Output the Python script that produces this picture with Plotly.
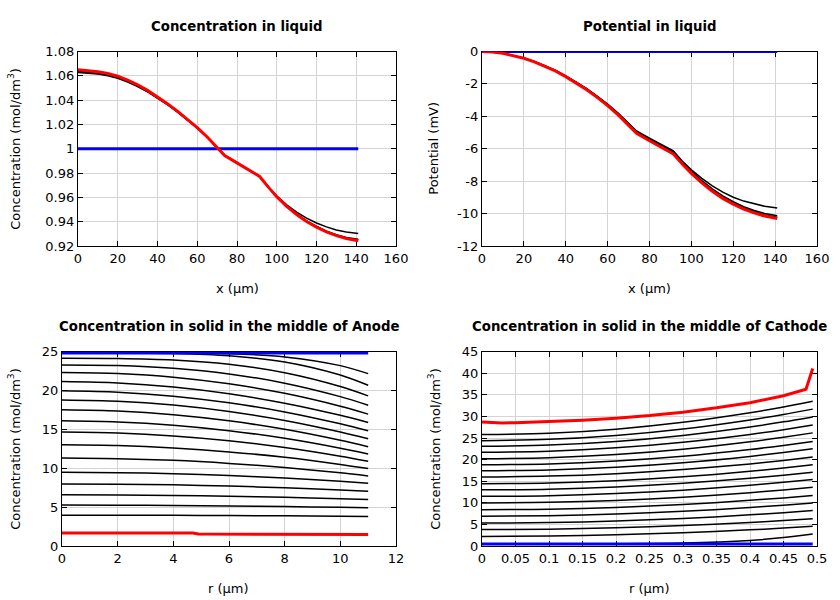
import plotly.graph_objects as go

# ---------------- data ----------------
# Liquid (top row)
x_liq = [0, 5, 10, 15, 20, 25, 30, 35, 40, 45, 50, 55, 60, 65, 70, 73.8, 80, 86, 91.4,
         96, 100, 105, 110, 115, 120, 125, 130, 135, 141]
x_liq_init = [0, 141]

conc_init = [1.0, 1.0]
conc_b1 = [1.0628, 1.0623, 1.0614, 1.0600, 1.0579, 1.0549, 1.0512, 1.0468, 1.0418, 1.0363, 1.0303, 1.0240, 1.0171,
           1.0095, 1.0013, 0.9944, 0.9884, 0.9826, 0.9772,
           0.9681, 0.9611, 0.9538, 0.9479, 0.9429, 0.9389, 0.9357, 0.9332, 0.9315, 0.9302]
conc_b2 = [1.0634, 1.0629, 1.0620, 1.0606, 1.0584, 1.0554, 1.0516, 1.0471, 1.0421, 1.0365, 1.0305, 1.0241, 1.0172,
           1.0096, 1.0013, 0.9944, 0.9884, 0.9826, 0.9772,
           0.9680, 0.9607, 0.9528, 0.9462, 0.9406, 0.9360, 0.9322, 0.9292, 0.9270, 0.9255]
conc_b3 = [1.0639, 1.0634, 1.0624, 1.0610, 1.0588, 1.0557, 1.0519, 1.0474, 1.0423, 1.0367, 1.0306, 1.0242, 1.0173,
           1.0096, 1.0013, 0.9944, 0.9884, 0.9826, 0.9772,
           0.9680, 0.9606, 0.9527, 0.9461, 0.9404, 0.9358, 0.9319, 0.9288, 0.9266, 0.9249]
conc_final = [1.0649, 1.0644, 1.0634, 1.0619, 1.0597, 1.0565, 1.0526, 1.0480, 1.0428, 1.0371, 1.0309, 1.0244, 1.0174,
              1.0097, 1.0014, 0.9944, 0.9884, 0.9826, 0.9772,
              0.9680, 0.9606, 0.9526, 0.9459, 0.9402, 0.9355, 0.9316, 0.9285, 0.9262, 0.9244]

pot_init = [0.0, 0.0]
pot_b1 = [0, -0.03, -0.11, -0.24, -0.41, -0.62, -0.87, -1.16, -1.50, -1.87, -2.29, -2.75, -3.24,
          -3.79, -4.39, -4.90, -5.34, -5.75, -6.13,
          -6.81, -7.30, -7.83, -8.29, -8.68, -8.99, -9.23, -9.41, -9.55, -9.66]
pot_b2 = [0, -0.03, -0.11, -0.25, -0.41, -0.63, -0.88, -1.18, -1.52, -1.89, -2.31, -2.77, -3.27,
          -3.83, -4.44, -4.95, -5.40, -5.81, -6.19,
          -6.86, -7.38, -7.97, -8.48, -8.91, -9.27, -9.57, -9.81, -9.99, -10.13]
pot_b3 = [0, -0.03, -0.11, -0.25, -0.42, -0.63, -0.89, -1.19, -1.53, -1.91, -2.34, -2.80, -3.31,
          -3.87, -4.48, -5.00, -5.45, -5.87, -6.26,
          -6.93, -7.46, -8.04, -8.55, -8.99, -9.35, -9.65, -9.89, -10.08, -10.22]
pot_final = [0, -0.03, -0.11, -0.25, -0.42, -0.64, -0.90, -1.20, -1.55, -1.93, -2.36, -2.83, -3.34,
             -3.91, -4.53, -5.05, -5.51, -5.93, -6.32,
             -6.99, -7.52, -8.11, -8.62, -9.06, -9.42, -9.72, -9.96, -10.15, -10.30]

# Anode solid (bottom left)
r_anode = [0, 2, 4, 6, 8, 10, 11]
r_anode_init = [0, 11]
anode_init = [24.82, 24.82]
anode_steps = [
    [24.88, 24.88, 24.87, 24.75, 24.33, 23.21, 22.18],
    [24.85, 24.85, 24.78, 24.48, 23.68, 22.00, 20.68],
    [24.15, 24.12, 23.92, 23.37, 22.29, 20.52, 19.32],
    [23.29, 23.22, 22.87, 22.14, 20.95, 19.22, 18.12],
    [22.31, 22.18, 21.72, 20.87, 19.64, 17.98, 16.97],
    [21.15, 20.98, 20.46, 19.59, 18.37, 16.81, 15.90],
    [19.96, 19.79, 19.28, 18.43, 17.25, 15.72, 14.83],
    [18.80, 18.64, 18.14, 17.31, 16.16, 14.67, 13.80],
    [17.52, 17.36, 16.89, 16.11, 15.01, 13.60, 12.78],
    [16.11, 15.97, 15.55, 14.84, 13.85, 12.58, 11.84],
    [14.66, 14.54, 14.16, 13.54, 12.67, 11.55, 10.90],
    [13.03, 12.93, 12.62, 12.11, 11.41, 10.49, 9.96],
    [11.32, 11.24, 11.02, 10.63, 10.10, 9.42, 9.02],
    [9.49, 9.44, 9.30, 9.07, 8.74, 8.33, 8.08],
    [7.99, 7.96, 7.87, 7.71, 7.49, 7.21, 7.05],
    [6.58, 6.56, 6.50, 6.40, 6.26, 6.08, 5.98],
    [5.26, 5.25, 5.21, 5.16, 5.07, 4.97, 4.91],
    [3.97, 3.96, 3.95, 3.92, 3.88, 3.83, 3.80],
]
r_anode_final = [0, 2, 4, 4.7, 4.9, 6, 8, 10, 11]
anode_final = [1.68, 1.68, 1.68, 1.67, 1.55, 1.54, 1.52, 1.50, 1.48]

# Cathode solid (bottom right)
r_cath = [0, 0.1, 0.2, 0.3, 0.4, 0.45, 0.4936]
r_cath_init = [0, 0.4936]
cath_init = [0.46, 0.46]
cath_steps = [
    [0.50, 0.50, 0.53, 0.69, 1.30, 1.94, 2.78],
    [2.20, 2.30, 2.59, 3.07, 3.74, 4.15, 4.55],
    [3.80, 3.90, 4.21, 4.72, 5.44, 5.88, 6.30],
    [5.30, 5.42, 5.78, 6.37, 7.21, 7.71, 8.20],
    [6.90, 7.03, 7.40, 8.03, 8.91, 9.44, 9.96],
    [8.40, 8.54, 8.94, 9.62, 10.57, 11.14, 11.70],
    [9.96, 10.11, 10.56, 11.30, 12.35, 12.98, 13.60],
    [11.50, 11.66, 12.14, 12.94, 14.06, 14.74, 15.40],
    [13.00, 13.17, 13.67, 14.51, 15.69, 16.41, 17.10],
    [14.40, 14.58, 15.12, 16.02, 17.29, 18.06, 18.80],
    [16.00, 16.19, 16.75, 17.70, 19.02, 19.82, 20.60],
    [17.40, 17.61, 18.24, 19.28, 20.75, 21.64, 22.50],
    [18.80, 19.02, 19.69, 20.79, 22.35, 23.29, 24.20],
    [20.20, 20.45, 21.18, 22.41, 24.14, 25.19, 26.20],
    [21.70, 21.96, 22.73, 24.02, 25.84, 26.94, 28.00],
    [23.10, 23.38, 24.22, 25.61, 27.57, 28.75, 29.90],
    [24.40, 24.70, 25.60, 27.09, 29.20, 30.47, 31.70],
    [25.80, 26.12, 27.06, 28.64, 30.86, 32.20, 33.50],
]
r_cath_final = [0, 0.03, 0.05, 0.1, 0.15, 0.2, 0.25, 0.3, 0.35, 0.4, 0.45, 0.4836, 0.4936]
cath_final = [28.7, 28.5, 28.55, 28.8, 29.15, 29.6, 30.2, 31.0, 32.0, 33.2, 34.8, 36.3, 41.1]

# ticks
liq_x_ticks = [0, 20, 40, 60, 80, 100, 120, 140, 160]
conc_y_ticks = [0.92, 0.94, 0.96, 0.98, 1.0, 1.02, 1.04, 1.06, 1.08]
conc_y_text = ["0.92", "0.94", "0.96", "0.98", "1", "1.02", "1.04", "1.06", "1.08"]
pot_y_ticks = [-12, -10, -8, -6, -4, -2, 0]
pot_y_text = ["-12", "-10", "-8", "-6", "-4", "-2", "0"]
anode_x_ticks = [0, 2, 4, 6, 8, 10, 12]
anode_y_ticks = [0, 5, 10, 15, 20, 25]
cath_x_ticks = [0, 0.05, 0.1, 0.15, 0.2, 0.25, 0.3, 0.35, 0.4, 0.45, 0.5]
cath_x_text = ["0", "0.05", "0.1", "0.15", "0.2", "0.25", "0.3", "0.35", "0.4", "0.45", "0.5"]
cath_y_ticks = [0, 5, 10, 15, 20, 25, 30, 35, 40, 45]

titles = ["Concentration in liquid", "Potential in liquid",
          "Concentration in solid in the middle of Anode", "Concentration in solid in the middle of Cathode"]
conc_label = "Concentration (mol/dm<sup>3</sup>)"

# ---------------- figure ----------------
W, H = 840, 600
FONT = "DejaVu Sans"
BLACK_W = 1.5
THICK_W = 3

fig = go.Figure()


def add_line(x, y, color, width, xa, ya, shape="linear"):
    fig.add_trace(go.Scatter(x=x, y=y, mode="lines", xaxis=xa, yaxis=ya, cliponaxis=False,
                             line=dict(color=color, width=width, shape=shape, smoothing=0.8),
                             showlegend=False, hoverinfo="skip"))


# top-left
for s in [conc_b1, conc_b2, conc_b3]:
    add_line(x_liq, s, "black", BLACK_W, "x", "y")
add_line(x_liq_init, conc_init, "#0000ff", THICK_W, "x", "y")
add_line(x_liq, conc_final, "#ff0000", THICK_W, "x", "y")

# top-right
for s in [pot_b1, pot_b2, pot_b3]:
    add_line(x_liq, s, "black", BLACK_W, "x2", "y2")
add_line(x_liq_init, pot_init, "#0000ff", THICK_W, "x2", "y2")
add_line(x_liq, pot_final, "#ff0000", THICK_W, "x2", "y2")

# bottom-left
for s in anode_steps:
    add_line(r_anode, s, "black", BLACK_W, "x3", "y3", "spline")
add_line(r_anode_init, anode_init, "#0000ff", THICK_W, "x3", "y3")
add_line(r_anode_final, anode_final, "#ff0000", THICK_W, "x3", "y3")

# bottom-right
for s in cath_steps:
    add_line(r_cath, s, "black", BLACK_W, "x4", "y4", "spline")
add_line(r_cath_init, cath_init, "#0000ff", THICK_W, "x4", "y4")
add_line(r_cath_final, cath_final, "#ff0000", THICK_W, "x4", "y4")

# pixel boxes: (left, right, top, bottom)
boxes = [(78, 396, 51.5, 246), (482, 817, 51.5, 246), (62, 396, 351.7, 546), (482, 817, 351.7, 546)]


def dom(b):
    l, r, t, btm = b
    return [l / W, r / W], [1 - btm / H, 1 - t / H]


axis_common = dict(showline=True, linecolor="black", linewidth=1.3, mirror="allticks", ticks="inside",
                   ticklen=5, tickwidth=1, tickcolor="black", showgrid=True, gridcolor="#d4d4d4",
                   gridwidth=1, zeroline=False, layer="below traces", automargin=False,
                   tickfont=dict(family=FONT, size=13, color="black"))

specs = [
    (liq_x_ticks, [str(v) for v in liq_x_ticks], [0, 160], conc_y_ticks, conc_y_text, [0.92, 1.08]),
    (liq_x_ticks, [str(v) for v in liq_x_ticks], [0, 160], pot_y_ticks, pot_y_text, [-12, 0]),
    (anode_x_ticks, [str(v) for v in anode_x_ticks], [0, 12], anode_y_ticks, [str(v) for v in anode_y_ticks], [0, 25]),
    (cath_x_ticks, cath_x_text, [0, 0.5], cath_y_ticks, [str(v) for v in cath_y_ticks], [0, 45]),
]

layout = dict(width=W, height=H, margin=dict(l=0, r=0, t=0, b=0, autoexpand=False), paper_bgcolor="white",
              plot_bgcolor="white", showlegend=False, font=dict(family=FONT, size=13, color="black"))
for i, (b, sp) in enumerate(zip(boxes, specs)):
    n = "" if i == 0 else str(i + 1)
    xd, yd = dom(b)
    xt, xtt, xr, yt, ytt, yr = sp
    layout["xaxis" + n] = dict(domain=xd, range=xr, tickvals=xt, ticktext=xtt, anchor="y" + n, **axis_common)
    layout["yaxis" + n] = dict(domain=yd, range=yr, tickvals=yt, ticktext=ytt, anchor="x" + n, **axis_common)

annotations = []
title_y = [26, 26, 326, 326]
xlab_y = [288, 288, 588, 588]
xlabels = ["x (µm)", "x (µm)", "r (µm)", "r (µm)"]
ylabels = [conc_label, "Potential (mV)", conc_label, conc_label]
ylab_x = [14, 434, 14, 434]
for i, b in enumerate(boxes):
    l, r, t, btm = b
    cx = (l + r) / 2 / W
    annotations.append(dict(text="<b>" + titles[i] + "</b>", x=cx, y=1 - title_y[i] / H, xref="paper", yref="paper",
                            xanchor="center", yanchor="middle", showarrow=False,
                            font=dict(family=FONT, size=13.3, color="black")))
    annotations.append(dict(text=xlabels[i], x=cx, y=1 - xlab_y[i] / H, xref="paper", yref="paper",
                            xanchor="center", yanchor="middle", showarrow=False,
                            font=dict(family=FONT, size=13, color="black")))
    annotations.append(dict(text=ylabels[i], x=ylab_x[i] / W, y=1 - (t + btm) / 2 / H, xref="paper", yref="paper",
                            xanchor="center", yanchor="middle", textangle=-90, showarrow=False,
                            font=dict(family=FONT, size=13, color="black")))
layout["annotations"] = annotations

fig.update_layout(**layout)
fig.write_html("out.html")
